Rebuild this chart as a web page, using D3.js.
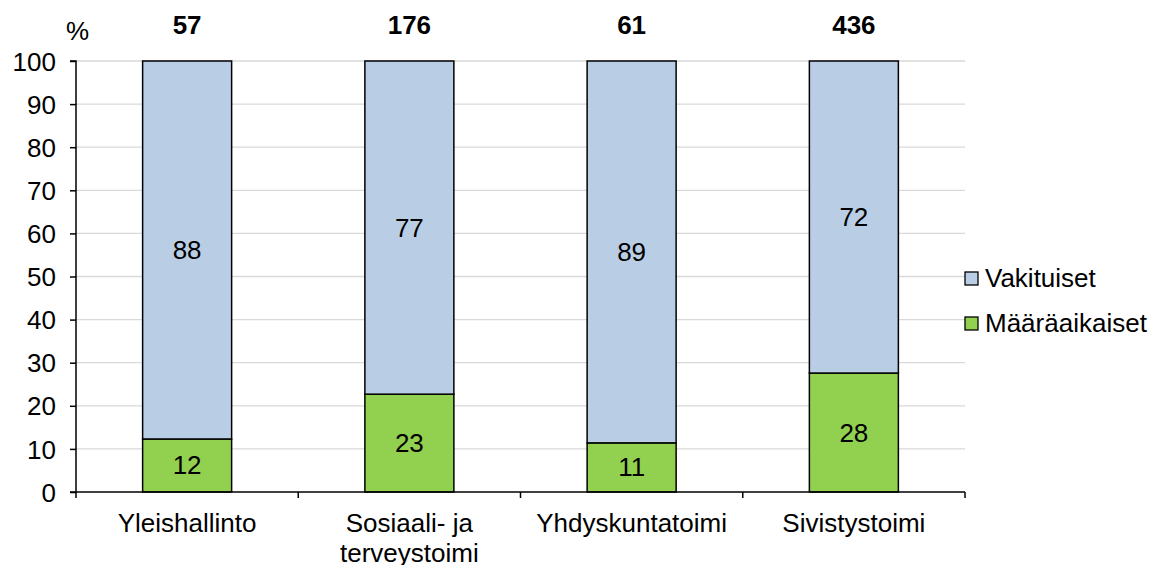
<!DOCTYPE html>
<html>
<head>
<meta charset="utf-8">
<script src="https://cdn.jsdelivr.net/npm/d3@7"></script>
<style>
  body { margin: 0; background: #fff; }
  text { font-family: "Liberation Sans", Arial, sans-serif; fill: #000; }
</style>
</head>
<body>
<div id="wrap"></div>
<script>
const categories = [["Yleishallinto"], ["Sosiaali- ja", "terveystoimi"], ["Yhdyskuntatoimi"], ["Sivistystoimi"]];
const totals = [57, 176, 61, 436];
const fixedTerm = [12.3, 22.7, 11.4, 27.6];   // Määräaikaiset
const permanent = [87.7, 77.3, 88.6, 72.4];   // Vakituiset
const yTicks = [0, 10, 20, 30, 40, 50, 60, 70, 80, 90, 100];
const seriesNames = ["Vakituiset", "Määräaikaiset"];
const colors = { perm: "#b9cde5", fixed: "#92d050" };

const width = 1152, height = 565;
const margin = { left: 76, right: 187, top: 61, bottom: 73 };
const plotW = width - margin.left - margin.right;
const plotH = height - margin.top - margin.bottom;
const FS = 26;

const svg = d3.select("#wrap").append("svg")
    .attr("width", width).attr("height", height);

const idx = d3.range(categories.length);
const x = d3.scaleBand().domain(idx).range([0, plotW]);
const step = x.step();
const bw = 89;
const cx = i => x(i) + x.bandwidth() / 2;

const y = d3.scaleLinear().domain([0, 100]).range([plotH, 0]);

const g = svg.append("g").attr("transform", `translate(${margin.left},${margin.top})`);

// gridlines
g.selectAll("line.grid").data(yTicks.filter(d => d > 0)).enter().append("line")
    .attr("x1", 0).attr("x2", plotW)
    .attr("y1", d => y(d)).attr("y2", d => y(d))
    .attr("stroke", "#d9d9d9").attr("stroke-width", 1.3);

// bars
g.selectAll("rect.fixed").data(idx).enter().append("rect")
    .attr("x", i => cx(i) - bw / 2).attr("width", bw)
    .attr("y", i => y(fixedTerm[i])).attr("height", i => y(0) - y(fixedTerm[i]))
    .attr("fill", colors.fixed).attr("stroke", "#000").attr("stroke-width", 1.5);

g.selectAll("rect.perm").data(idx).enter().append("rect")
    .attr("x", i => cx(i) - bw / 2).attr("width", bw)
    .attr("y", i => y(fixedTerm[i] + permanent[i])).attr("height", i => y(fixedTerm[i]) - y(fixedTerm[i] + permanent[i]))
    .attr("fill", colors.perm).attr("stroke", "#000").attr("stroke-width", 1.5);

// value labels
g.selectAll("text.vf").data(idx).enter().append("text")
    .attr("x", cx).attr("y", i => y(fixedTerm[i] / 2) + 9)
    .attr("text-anchor", "middle").attr("font-size", FS)
    .text(i => Math.round(fixedTerm[i]));

g.selectAll("text.vp").data(idx).enter().append("text")
    .attr("x", cx).attr("y", i => y(fixedTerm[i] + permanent[i] / 2) + 9)
    .attr("text-anchor", "middle").attr("font-size", FS)
    .text(i => Math.round(permanent[i]));

// totals on top
g.selectAll("text.total").data(idx).enter().append("text")
    .attr("x", cx).attr("y", -27)
    .attr("text-anchor", "middle").attr("font-size", FS).attr("font-weight", "bold")
    .text(i => totals[i]);

// y axis
const yAxis = d3.axisLeft(y).tickValues(yTicks).tickSize(6).tickPadding(14);
const ya = g.append("g").call(yAxis);
ya.select(".domain").attr("stroke", "#000").attr("stroke-width", 1.5).attr("d", `M-6,0H0V${plotH}H-6`);
ya.selectAll(".tick line").attr("stroke", "#000").attr("stroke-width", 1.5);
ya.selectAll(".tick text").attr("font-size", FS).attr("font-family", "Liberation Sans, Arial, sans-serif").attr("dy", "0.35em");

g.append("text").attr("x", -10).attr("y", -21).attr("font-size", FS).text("%");

// x axis
const xa = g.append("g").attr("transform", `translate(0,${plotH})`);
xa.append("line").attr("x1", 0).attr("x2", plotW).attr("stroke", "#000").attr("stroke-width", 1.5);
xa.selectAll("line.tk").data(d3.range(categories.length + 1)).enter().append("line")
    .attr("x1", i => i * step).attr("x2", i => i * step)
    .attr("y1", 0).attr("y2", 6)
    .attr("stroke", "#000").attr("stroke-width", 1.5);

xa.selectAll("text.cat").data(idx).enter().append("text")
    .attr("x", cx).attr("y", 40)
    .attr("text-anchor", "middle").attr("font-size", FS)
    .each(function(i) {
        categories[i].forEach((line, k) => {
            d3.select(this).append("tspan").attr("x", cx(i)).attr("dy", k === 0 ? 0 : 30).text(line);
        });
    });

// legend
const legend = svg.append("g").attr("transform", `translate(965,272)`);
seriesNames.forEach((name, k) => {
    const row = legend.append("g").attr("transform", `translate(0,${k * 45})`);
    row.append("rect").attr("x", 0).attr("y", 0).attr("width", 13).attr("height", 13)
        .attr("fill", k === 0 ? colors.perm : colors.fixed).attr("stroke", "#000").attr("stroke-width", 1.3);
    row.append("text").attr("x", 20).attr("y", 15).attr("font-size", FS).text(name);
});
</script>
</body>
</html>
